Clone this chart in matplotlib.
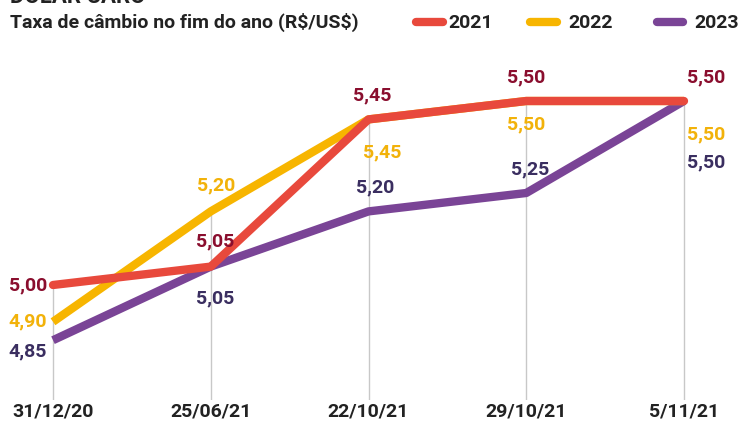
import matplotlib
matplotlib.use("Agg")
import matplotlib.pyplot as plt
from matplotlib.lines import Line2D
from matplotlib import font_manager as fm

names = {f.name for f in fm.fontManager.ttflist}
FONT = "Liberation Sans Narrow" if "Liberation Sans Narrow" in names else "Roboto"
plt.rcParams['font.family'] = [FONT, 'DejaVu Sans']

dates = ["31/12/20", "25/06/21", "22/10/21", "29/10/21", "5/11/21"]
years = ["2021", "2022", "2023"]
v2021 = [5.00, 5.05, 5.45, 5.50, 5.50]
v2022 = [4.90, 5.20, 5.45, 5.50, 5.50]
v2023 = [4.85, 5.05, 5.20, 5.25, 5.50]
labels2021 = ["5,00", "5,05", "5,45", "5,50", "5,50"]
labels2022 = ["4,90", "5,20", "5,45", "5,50", "5,50"]
labels2023 = ["4,85", "5,05", "5,20", "5,25", "5,50"]

line_colors = ["#E8493C", "#F7B500", "#7A4496"]
text_colors = ["#8A0E2E", "#F2B20A", "#3A2E60"]

W, H = 741, 437
fig = plt.figure(figsize=(W / 100, H / 100), dpi=100)
ax = fig.add_axes([0, 37 / H, 1, 1 - 37 / H])
x = list(range(len(dates)))
ax.set_xlim(-53 / 157.75, (W - 53) / 157.75)
ybot = 4.6875
ax.set_ylim(ybot, 5.00 + 285 / 368)

# vertical grid lines from top value down to bottom
for i in x:
    top = max(v2021[i], v2022[i], v2023[i])
    ax.plot([i, i], [ybot, top], color="#C8C8C8", lw=1.0, zorder=1)

lw = 6
ax.plot(x, v2023, color=line_colors[2], lw=lw, solid_capstyle="butt", solid_joinstyle="round", zorder=2)
ax.plot(x, v2022, color=line_colors[1], lw=lw, solid_capstyle="butt", solid_joinstyle="round", zorder=3)
ax.plot(x, v2021, color=line_colors[0], lw=lw, solid_capstyle="round", solid_joinstyle="round", zorder=4)

fs = 14
offsets2021 = [(-18, 0), (3, 18), (3, 17), (0, 17), (16, 17)]
offsets2022 = [(-18, 0), (4, 19), (10, -24), (0, -17), (16, -24)]
offsets2023 = [(-18, -8), (3, -23), (5, 17), (3, 17), (16, -44)]
for vals, labs, offs, col in [(v2021, labels2021, offsets2021, text_colors[0]),
                              (v2022, labels2022, offsets2022, text_colors[1]),
                              (v2023, labels2023, offsets2023, text_colors[2])]:
    for i, (v, lab, off) in enumerate(zip(vals, labs, offs)):
        ax.annotate(lab, (i, v), xytext=off, textcoords="offset points",
                    ha="center", va="center", fontsize=fs, fontweight="bold",
                    color=col, zorder=6)

ax.set_xticks(x)
ax.set_xticklabels(dates, fontsize=14, fontweight="bold", color="#222222")
ax.tick_params(axis="x", length=0, pad=2)
ax.set_yticks([])
for s in ax.spines.values():
    s.set_visible(False)

# titles
fig.text(10 / W, 1 + 3 / H, "DÓLAR CARO", fontsize=16, fontweight="bold",
         color="#222222", ha="left", va="center")
fig.text(10 / W, 1 - 22 / H, "Taxa de câmbio no fim do ano (R\\$/US\\$)", fontsize=14,
         fontweight="bold", color="#222222", ha="left", va="center")

# legend
leg = [(416, 443, 448), (530, 557, 568), (657, 683, 694)]
for (x0, x1, xt), col, yr in zip(leg, line_colors, years):
    fig.add_artist(Line2D([x0 / W, x1 / W], [1 - 22 / H, 1 - 22 / H], color=col, lw=6,
                          solid_capstyle="round", transform=fig.transFigure))
    fig.text(xt / W, 1 - 23 / H, yr, fontsize=14, fontweight="bold", color="#222222",
             ha="left", va="center")

fig.savefig("out.png", dpi=100)
